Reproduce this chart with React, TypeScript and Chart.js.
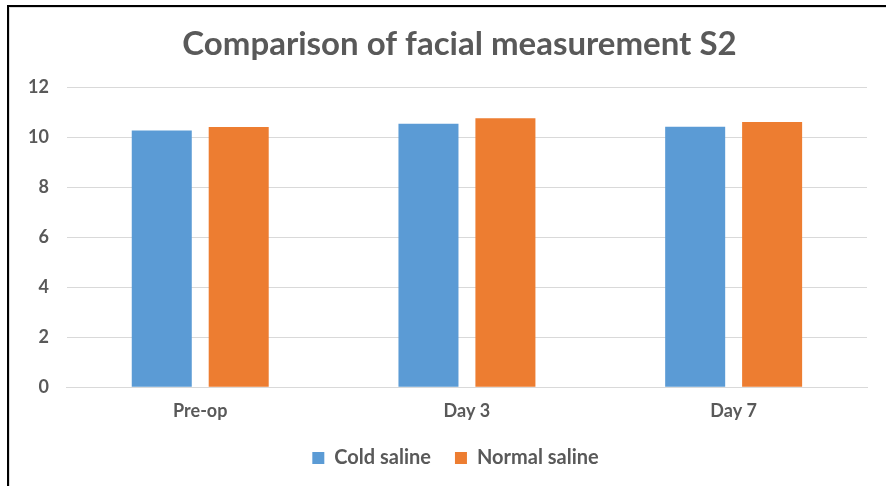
import React, { useEffect, useRef } from "react";
import { Chart, registerables } from "chart.js";

Chart.register(...registerables);

const categories = ["Pre-op", "Day 3", "Day 7"];
const coldSaline = [10.28, 10.55, 10.43];
const normalSaline = [10.42, 10.77, 10.62];
const yTicks = [0, 2, 4, 6, 8, 10, 12];

const TEXT = "#595959";
const FONT = "Lato, 'Open Sans', sans-serif";

const shiftPlugin = {
  id: "shiftBlocks",
  afterLayout(chart: any) {
    const t = chart.titleBlock;
    if (t) {
      t.left += 21;
      t.right += 21;
    }
    const l = chart.legend;
    if (l) {
      l.left += 17;
      l.right += 17;
    }
  },
};

export default function App() {
  const ref = useRef<HTMLCanvasElement | null>(null);

  useEffect(() => {
    document.body.style.margin = "0";
    const ctx = ref.current!;
    const chart = new Chart(ctx, {
      type: "bar",
      data: {
        labels: categories,
        datasets: [
          {
            label: "Cold saline",
            data: coldSaline,
            backgroundColor: "#5B9BD5",
            barPercentage: 0.78,
            categoryPercentage: 0.577,
          },
          {
            label: "Normal saline",
            data: normalSaline,
            backgroundColor: "#ED7D31",
            barPercentage: 0.78,
            categoryPercentage: 0.577,
          },
        ],
      },
      plugins: [shiftPlugin],
      options: {
        animation: false,
        responsive: false,
        maintainAspectRatio: false,
        layout: { padding: { left: 10, right: 19, top: 0, bottom: 8 } },
        plugins: {
          title: {
            display: true,
            text: "Comparison of facial measurement S2",
            color: TEXT,
            font: { family: FONT, size: 33, weight: "bold" },
            padding: { top: 25, bottom: 23 },
          },
          legend: {
            position: "bottom",
            labels: {
              color: TEXT,
              font: { family: FONT, size: 20, weight: "bold" },
              boxWidth: 12,
              boxHeight: 12,
              padding: 24,
            },
          },
          tooltip: { enabled: false },
        },
        scales: {
          x: {
            afterFit: (scale: any) => {
              scale.height -= 12;
            },
            grid: { display: false, drawTicks: false },
            border: { display: true, color: "#D9D9D9", width: 1 },
            ticks: {
              color: TEXT,
              font: { family: FONT, size: 18, weight: "bold" },
              padding: 13.6,
            },
          },
          y: {
            min: 0,
            max: 12,
            afterBuildTicks: (axis: any) => {
              axis.ticks = yTicks.map((v) => ({ value: v }));
            },
            grid: { color: "#D9D9D9", drawTicks: false },
            border: { display: false },
            ticks: {
              color: TEXT,
              font: { family: FONT, size: 18, weight: "bold" },
              padding: 18,
            },
          },
        },
      },
    });
    return () => chart.destroy();
  }, []);

  return (
    <div style={{ position: "absolute", left: 0, top: 0, width: 886, height: 486, background: "#fff" }}>
      <canvas ref={ref} width={886} height={486} style={{ position: "absolute", left: 0, top: 0 }} />
      <div
        style={{
          position: "absolute",
          left: 7,
          top: 5,
          right: 0,
          bottom: 0,
          borderLeft: "2px solid #000",
          borderTop: "2px solid #000",
          boxShadow: "inset 1px 1px 0 #dcdcdc",
          pointerEvents: "none",
        }}
      />
    </div>
  );
}
